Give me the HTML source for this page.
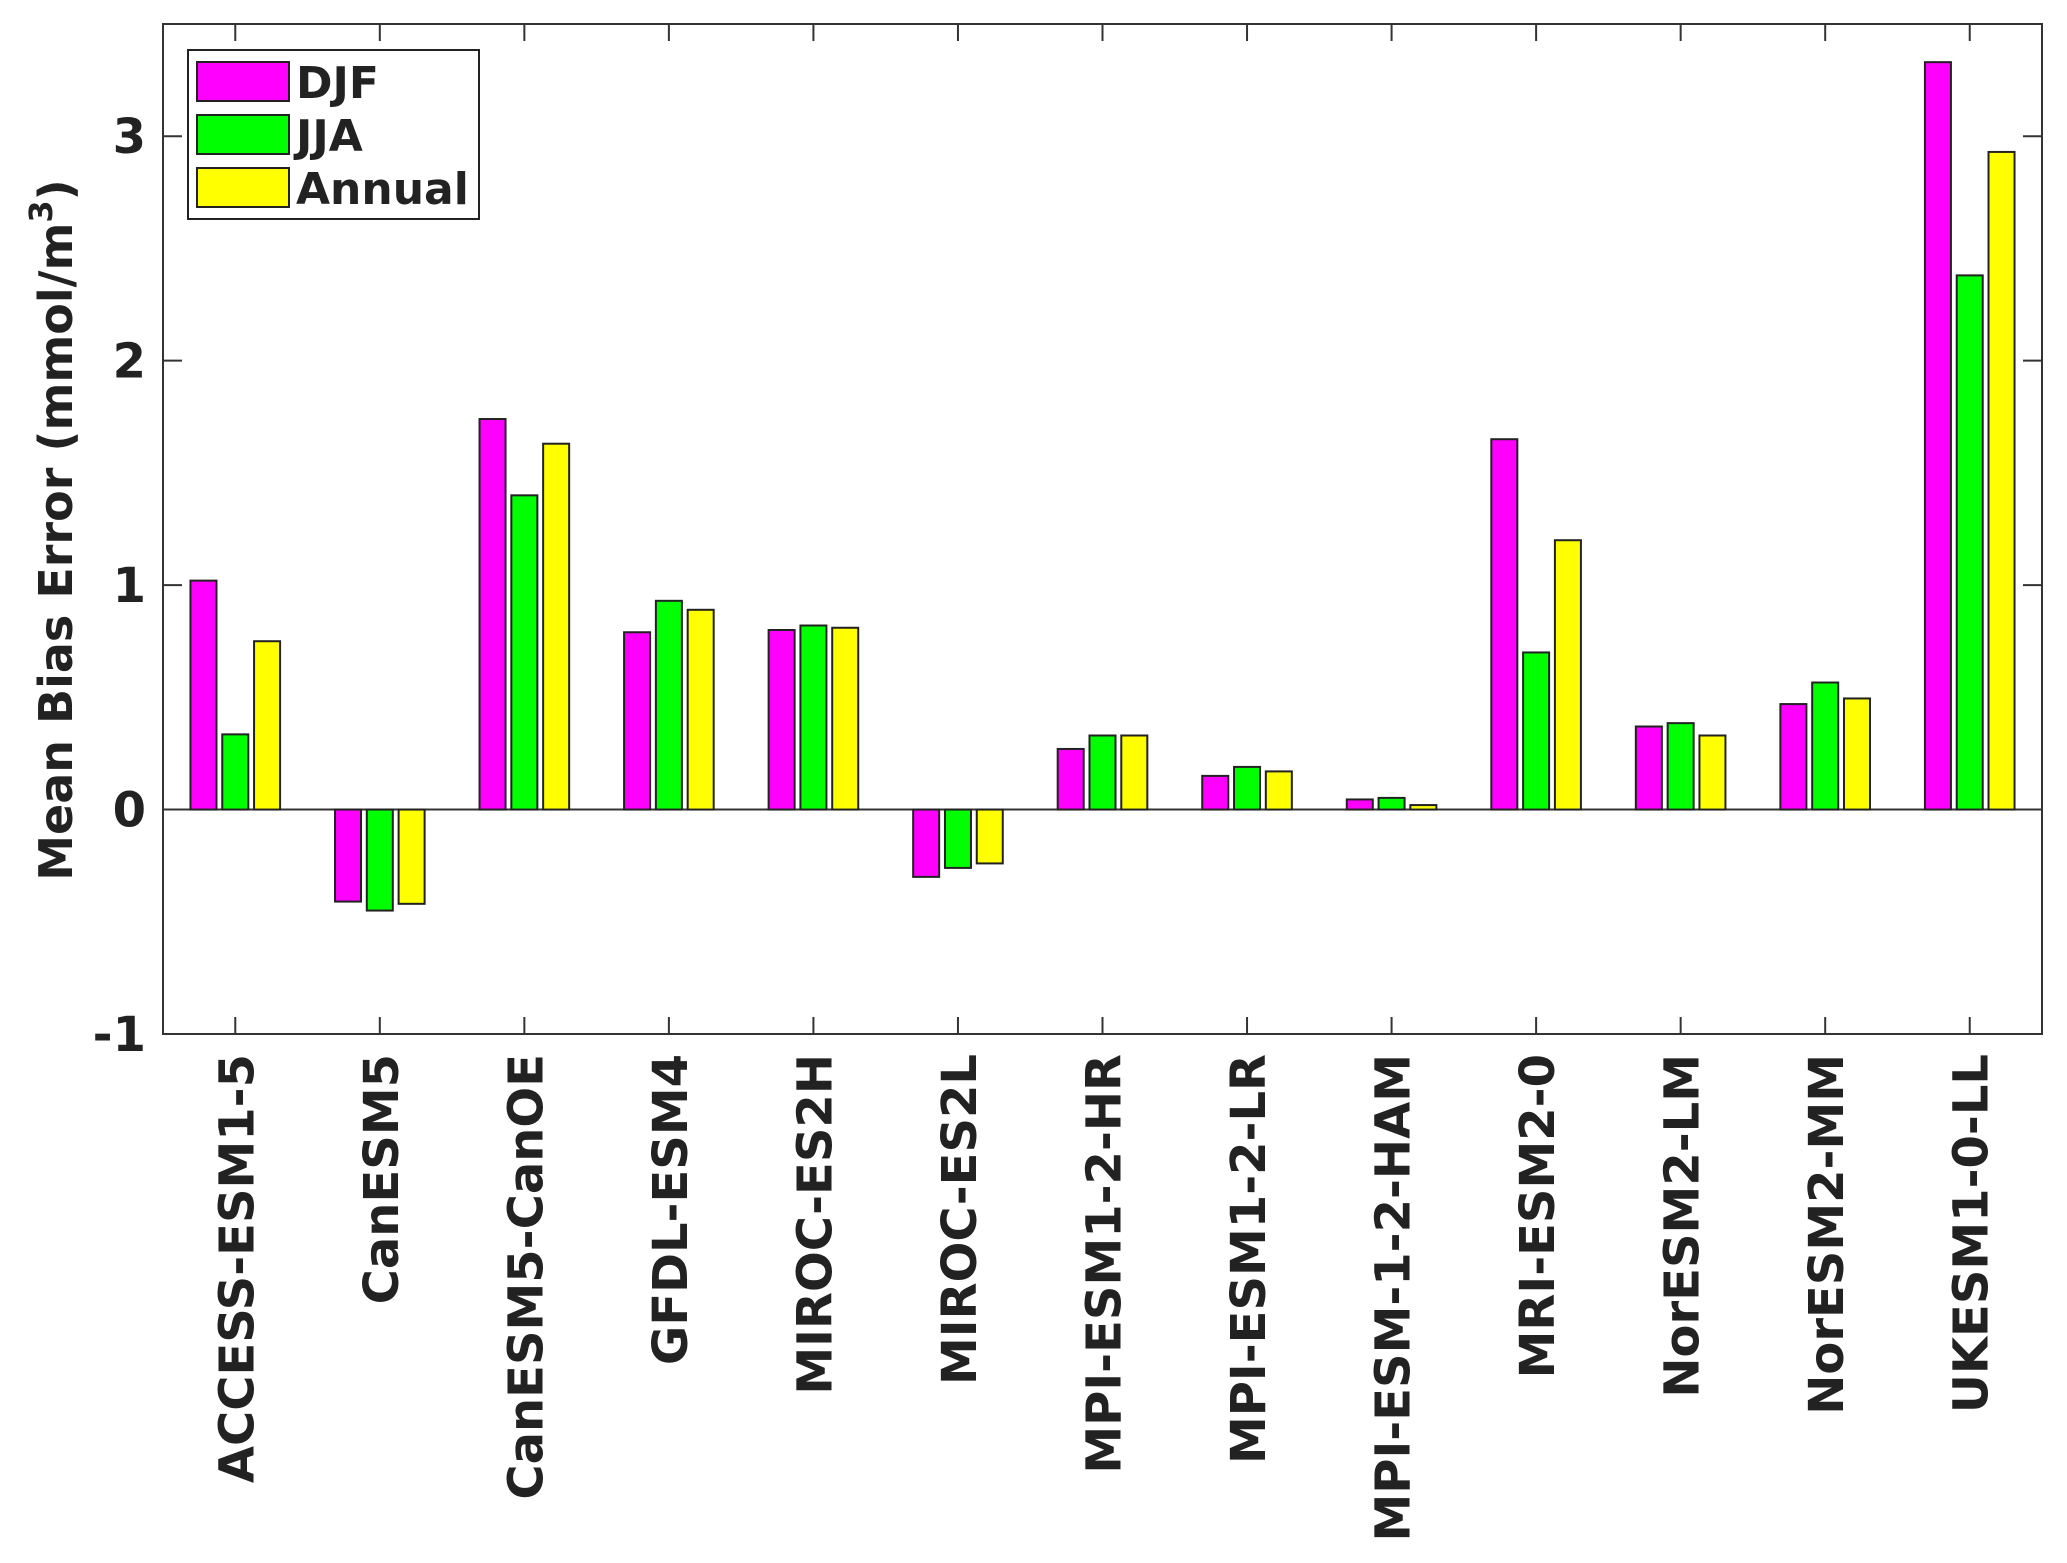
<!DOCTYPE html>
<html><head><meta charset="utf-8"><style>
html,body{margin:0;padding:0;background:#fff;}
svg{display:block;}
text{font-family:"DejaVu Sans","Liberation Sans",sans-serif;font-weight:bold;fill:#222;}
</style></head><body>
<svg id="chart" width="2067" height="1563" viewBox="0 0 2067 1563">
<g id="plot"></g>
</svg>
<script>
const categories = ["ACCESS-ESM1-5","CanESM5","CanESM5-CanOE","GFDL-ESM4","MIROC-ES2H","MIROC-ES2L","MPI-ESM1-2-HR","MPI-ESM1-2-LR","MPI-ESM-1-2-HAM","MRI-ESM2-0","NorESM2-LM","NorESM2-MM","UKESM1-0-LL"];
const djf = [1.02,-0.41,1.74,0.79,0.80,-0.30,0.27,0.15,0.045,1.65,0.37,0.47,3.33];
const jja = [0.335,-0.45,1.40,0.93,0.82,-0.26,0.33,0.19,0.052,0.70,0.385,0.566,2.38];
const annual = [0.75,-0.42,1.63,0.89,0.81,-0.24,0.33,0.17,0.02,1.20,0.33,0.495,2.93];
const seriesNames = ["DJF","JJA","Annual"];
const seriesColors = ["#ff00ff","#00ff00","#ffff00"];
const yTicks = [-1,0,1,2,3];
const yTickLabels = ["-1","0","1","2","3"];

const NS="http://www.w3.org/2000/svg";
const L=163,R=2042,T=24,B=1034;
const xMin=0.5,xMax=13.5,yMin=-1,yMax=3.5;
function xs(v){return L+(v-xMin)/(xMax-xMin)*(R-L);}
function ys(v){return B-(v-yMin)/(yMax-yMin)*(B-T);}
const g=document.getElementById('plot');
function mk(tag,attrs,parent){const e=document.createElementNS(NS,tag);for(const k in attrs)e.setAttribute(k,attrs[k]);(parent||g).appendChild(e);return e;}

// zero line
let zl=mk('line',{x1:L,x2:R,y1:ys(0),y2:ys(0),stroke:'#333','stroke-width':2});



// bars
const series=[djf,jja,annual];
const step=xs(2)-xs(1);
const off=0.22*step, bw=0.18*step;
series.forEach((arr,si)=>{
  arr.forEach((v,i)=>{
    const cx=xs(i+1)+(si-1)*off;
    const y0=ys(0), y1=ys(v);
    const r=mk('rect',{x:cx-bw/2,y:Math.min(y0,y1),width:bw,height:Math.abs(y1-y0),fill:seriesColors[si],stroke:'#222','stroke-width':2});
    
    
  });
});

// frame
let fr=mk('rect',{x:L,y:T,width:R-L,height:B-T,fill:'none',stroke:'#333','stroke-width':2});



// y ticks
yTicks.forEach((t,i)=>{
  const y=ys(t);
  mk('line',{x1:L,x2:L+19,y1:y,y2:y,stroke:'#333','stroke-width':2});
  mk('line',{x1:R,x2:R-19,y1:y,y2:y,stroke:'#333','stroke-width':2});
  const tx=mk('text',{x:146,y:y+17,'text-anchor':'end','font-size':48});
  tx.textContent=yTickLabels[i];
  
  
});

// x ticks and labels
categories.forEach((c,i)=>{
  const x=xs(i+1);
  mk('line',{x1:x,x2:x,y1:B,y2:B-17,stroke:'#333','stroke-width':2});
  mk('line',{x1:x,x2:x,y1:T,y2:T+17,stroke:'#333','stroke-width':2});
  const tx=mk('text',{transform:'translate('+(x+18)+',1054) rotate(-90)','text-anchor':'end','font-size':48});
  tx.textContent=c;
  
  
});

// y axis title
const yt=mk('text',{transform:'translate(72,530) rotate(-90)','text-anchor':'middle','font-size':46});
yt.innerHTML='Mean Bias Error (mmol/m<tspan dy="-20" font-size="32">3</tspan><tspan dy="20">)</tspan>';



// legend
const lg=mk('g',{});


mk('rect',{x:188,y:50,width:291,height:169,fill:'#fff',stroke:'#222','stroke-width':2},lg);
seriesNames.forEach((n,i)=>{
  const y=62+i*53;
  const e=mk('g',{},lg);
  
  
  mk('rect',{x:197,y:y,width:92,height:39,fill:seriesColors[i],stroke:'#222','stroke-width':2},e);
  const t=mk('text',{x:296,y:y+36,'font-size':44},e);
  t.textContent=n;
});
</script>
</body></html>
